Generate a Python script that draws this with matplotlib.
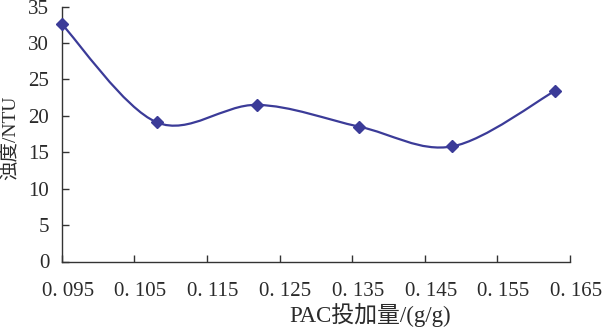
import numpy as np
import matplotlib
matplotlib.use("Agg")
import matplotlib.pyplot as plt
from matplotlib.path import Path
from matplotlib.patches import PathPatch
import matplotlib.transforms as mtransforms

# data
pac_dose = [0.095, 0.1081, 0.1219, 0.1360, 0.1488, 0.1629]
turbidity = [32.6, 19.1, 21.5, 18.5, 15.8, 23.4]

x_ticks = [0.095, 0.105, 0.115, 0.125, 0.135, 0.145, 0.155, 0.165]
x_ticklabels = ["0. 095", "0. 105", "0. 115", "0. 125", "0. 135", "0. 145", "0. 155", "0. 165"]
y_ticks = [0, 5, 10, 15, 20, 25, 30, 35]

line_color = "#3b3b98"
axis_color = "#333333"
text_color = "#2a2a2a"

plt.rcParams['font.family'] = ['Liberation Serif', 'Noto Sans CJK SC']


def smooth_path(x, y):
    """Excel-style smoothed line: cubic Bezier between the points."""
    pts = np.column_stack([x, y])
    n = len(pts)
    verts = [pts[0]]
    codes = [Path.MOVETO]
    for i in range(n - 1):
        p0 = pts[max(i - 1, 0)]
        p1 = pts[i]
        p2 = pts[i + 1]
        p3 = pts[min(i + 2, n - 1)]
        c1 = p1 + (p2 - p0) / 6.0
        c2 = p2 - (p3 - p1) / 6.0
        verts += [c1, c2, p2]
        codes += [Path.CURVE4] * 3
    return Path(verts, codes)


fig = plt.figure(figsize=(6.03, 3.28), dpi=100)
ax = fig.add_axes([61.7 / 603, (328 - 261.5) / 328, (570 - 61.7) / 603, 255 / 328])

patch = PathPatch(smooth_path(pac_dose, turbidity), fill=False, edgecolor=line_color,
                  linewidth=1.6, transform=ax.transData, clip_on=False)
ax.add_patch(patch)
ax.plot(pac_dose, turbidity, linestyle='none', marker='D', markersize=6.5,
        color=line_color, clip_on=False, zorder=5)

ax.set_xlim(0.095, 0.165)
ax.set_ylim(0, 35)
ax.set_xticks(x_ticks)
ax.set_xticklabels(x_ticklabels)
ax.set_yticks(y_ticks)

for side in ['top', 'right']:
    ax.spines[side].set_visible(False)
for side in ['left', 'bottom']:
    ax.spines[side].set_color(axis_color)
    ax.spines[side].set_linewidth(1.0)

ax.tick_params(axis='both', direction='in', length=5, width=1.0, color=axis_color,
               labelsize=15, labelcolor=text_color)
ax.tick_params(axis='x', pad=15)
ax.tick_params(axis='y', pad=9)

# labels sit slightly right of the ticks in the reference
offset = mtransforms.ScaledTranslation(6 / 100, 0, fig.dpi_scale_trans)
for lbl in ax.get_xticklabels():
    lbl.set_transform(lbl.get_transform() + offset)

fig.text(370 / 603, 1 / 328, "PAC投加量/(g/g)", ha='center', va='bottom',
         fontsize=16.5, color=text_color)
fig.text(10 / 603, (328 - 138) / 328, "浊度/NTU", ha='center', va='center',
         rotation=90, fontsize=14, color=text_color)

fig.savefig("out.png", dpi=100)
